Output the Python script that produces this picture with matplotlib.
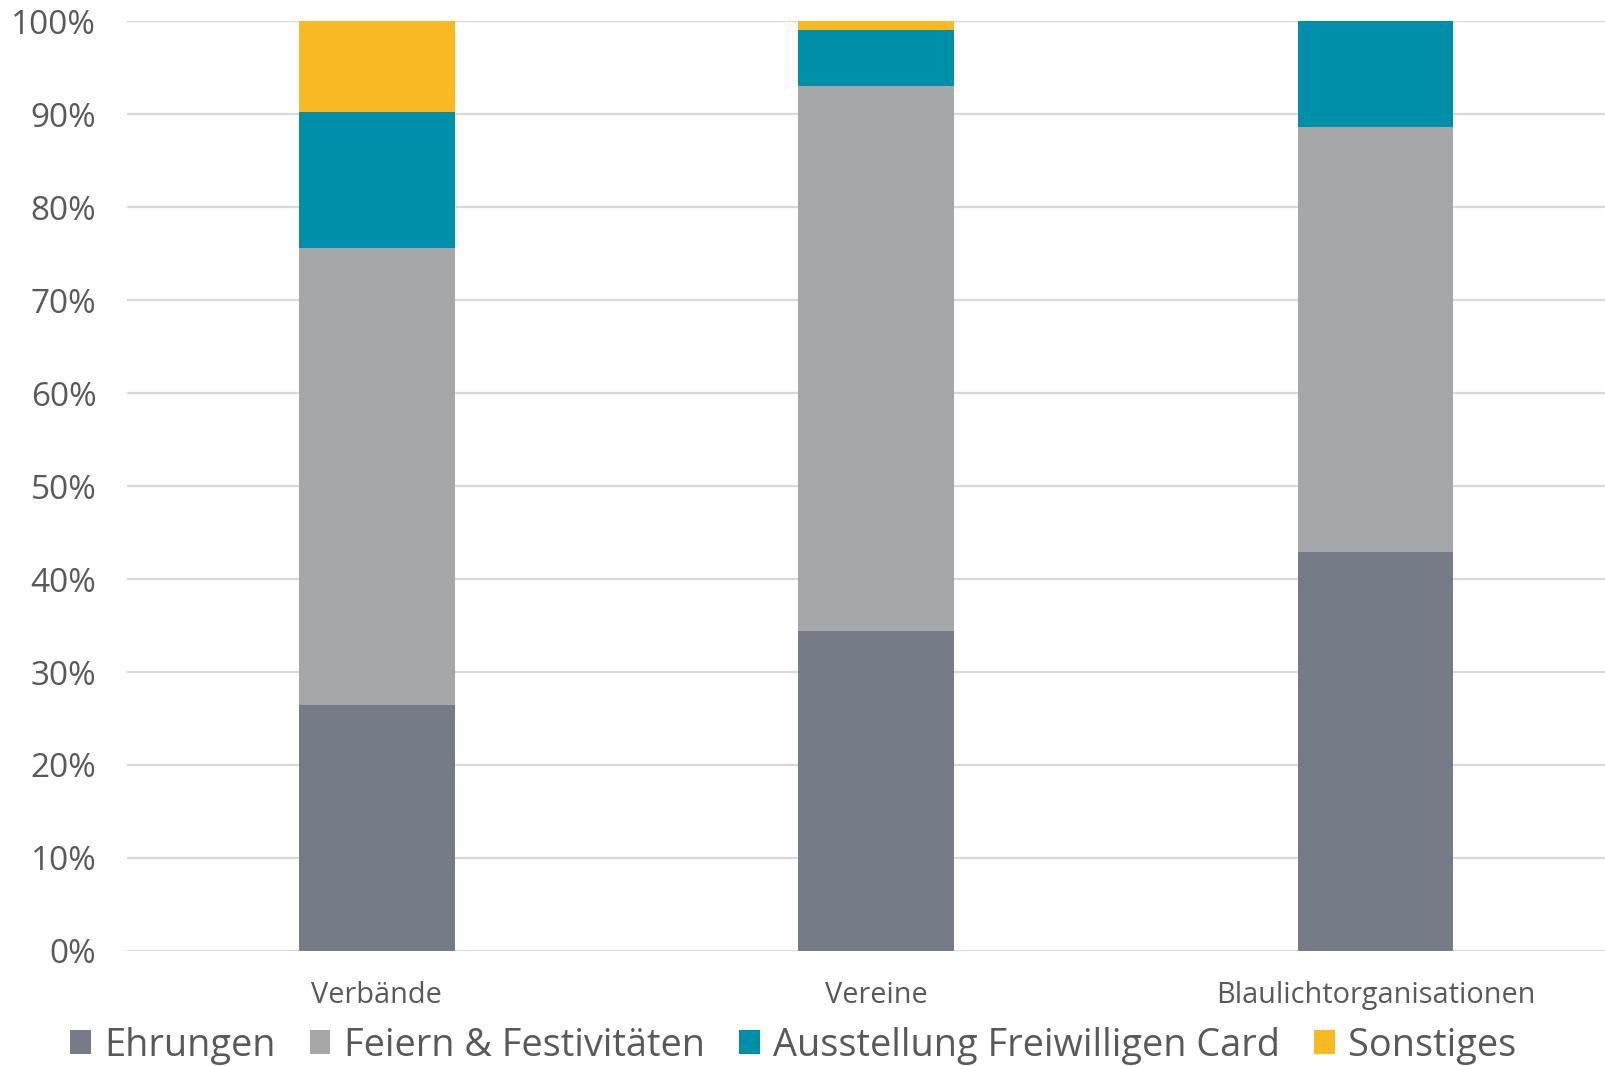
import numpy as np
import matplotlib
matplotlib.use("Agg")
import matplotlib.pyplot as plt
from matplotlib.patches import Patch
from matplotlib.ticker import PercentFormatter

#%% data (percent shares per group)
categories = ["Verbände", "Vereine", "Blaulichtorganisationen"]
series_names = ["Ehrungen", "Feiern & Festivitäten", "Ausstellung Freiwilligen Card", "Sonstiges"]
ehrungen = [26.5, 34.4, 42.9]
feiern = [49.1, 58.6, 45.7]
ausstellung = [14.6, 6.1, 11.4]
sonstiges = [9.8, 0.9, 0.0]
yticks = [0, 10, 20, 30, 40, 50, 60, 70, 80, 90, 100]

colors = ["#757b87", "#a6a7a9", "#008fa8", "#f9b922"]
txt = "#595959"

plt.rcParams["font.family"] = ["Open Sans", "DejaVu Sans"]

fig = plt.figure(figsize=(16.06, 10.66), dpi=100)
ax = fig.add_axes([0.079, 0.108, 0.933, 0.872])

x = np.arange(len(categories))
bottom = np.zeros(len(categories))
for vals, col, name in zip([ehrungen, feiern, ausstellung, sonstiges], colors, series_names):
    ax.bar(x, vals, width=0.312, bottom=bottom, color=col, label=name, zorder=3)
    bottom += np.array(vals)

ax.set_xlim(-0.5, 2.5)
ax.set_ylim(0, 100)
ax.set_yticks(yticks)
ax.yaxis.set_major_formatter(PercentFormatter(decimals=0))
ax.set_xticks(x)
ax.set_xticklabels(categories)
ax.grid(axis="y", color="#d9d9d9", linewidth=1.6, zorder=0)
ax.tick_params(axis="y", length=0, labelsize=24, labelcolor=txt, pad=22)
ax.tick_params(axis="x", length=0, labelsize=20.8, labelcolor=txt, pad=22)
for s in ax.spines.values():
    s.set_visible(False)

handles = [Patch(facecolor=c, label=n) for c, n in zip(colors, series_names)]
fig.legend(handles=handles, loc="center left", bbox_to_anchor=(0.034, 0.019), ncol=4,
           frameon=False, fontsize=27.3, labelcolor=txt, handlelength=0.55, handleheight=0.6,
           handletextpad=0.35, columnspacing=0.9, borderaxespad=0)

fig.savefig("out.png", dpi=100)
